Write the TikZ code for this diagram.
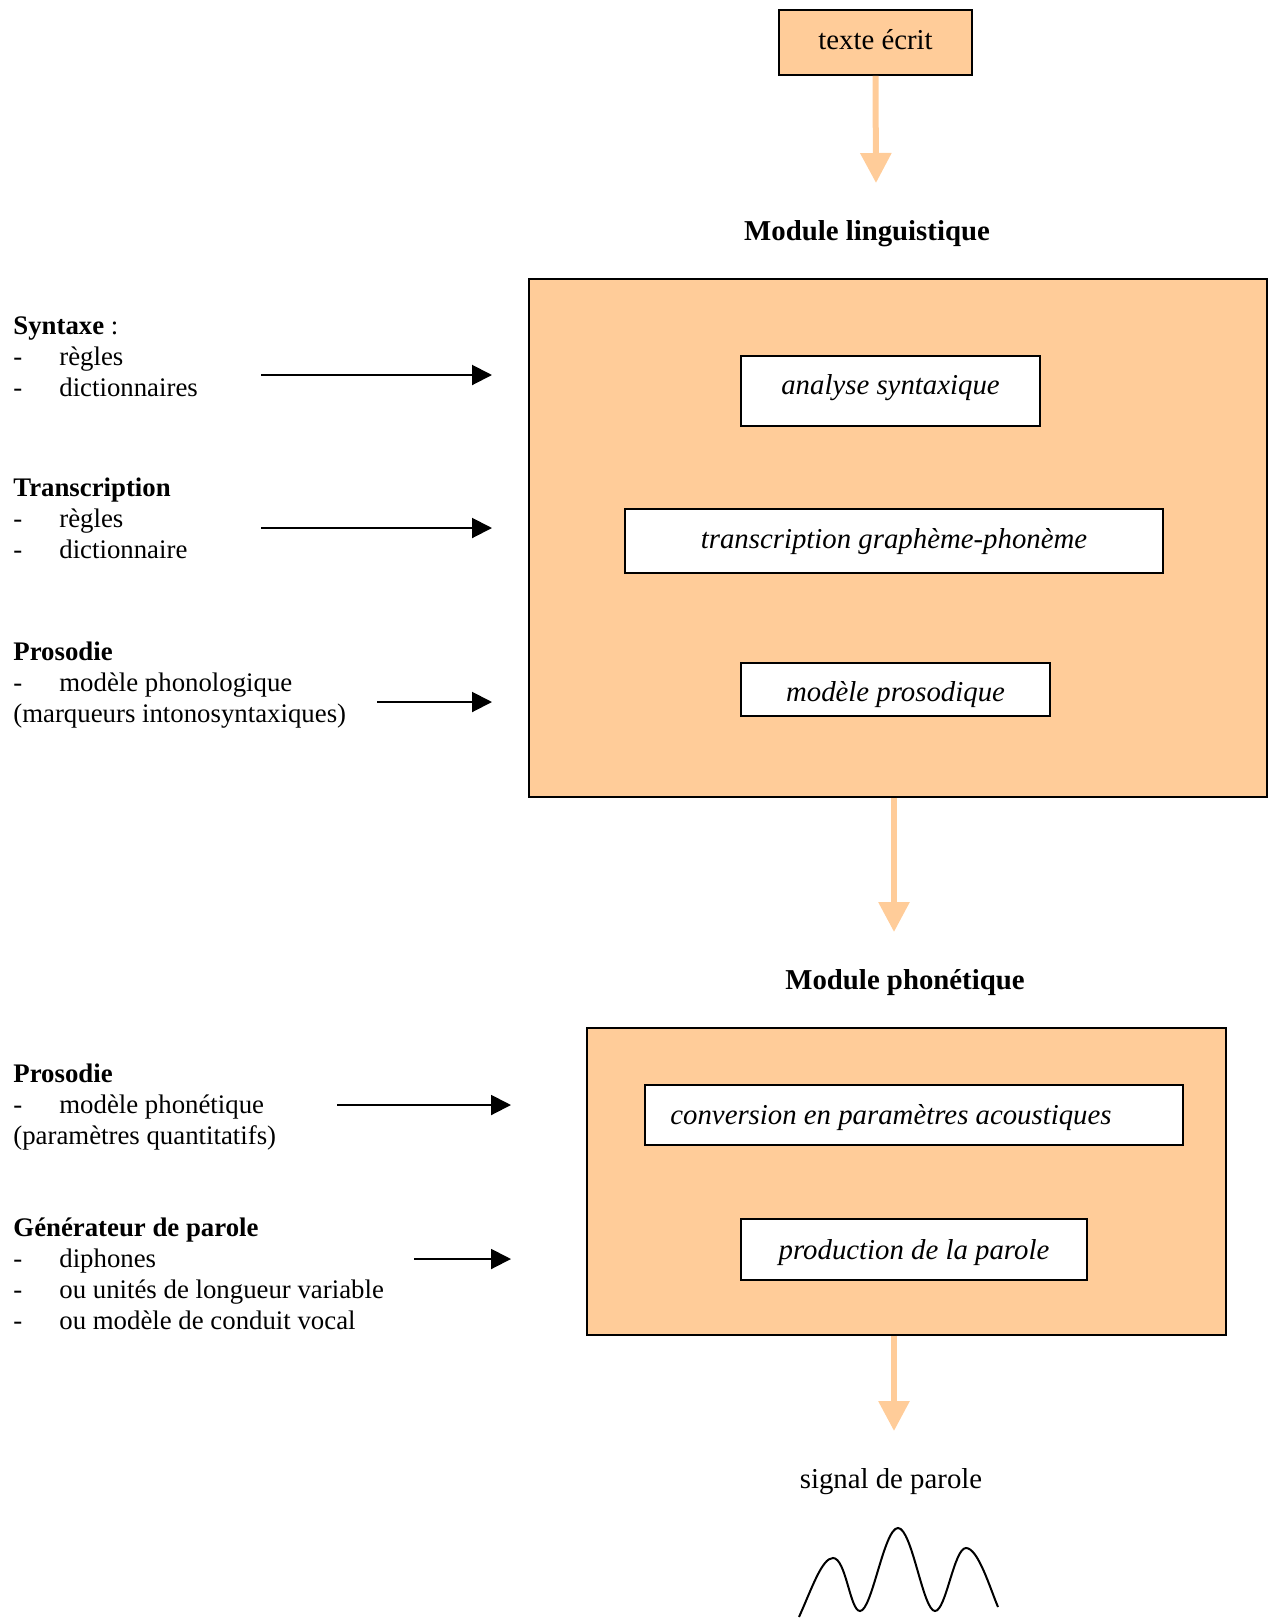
\documentclass[tikz,border=0pt]{standalone}
\usepackage{fontspec}
\setmainfont{Liberation Serif}
\usetikzlibrary{arrows.meta}
\definecolor{peach}{RGB}{255,204,153}
\begin{document}
\begin{tikzpicture}[x=0.5pt,y=-0.5pt,
 box/.style={draw=black, line width=0.8pt, inner sep=0pt},
 whitebox/.style={box, fill=white},
 boxtext/.style={inner sep=0pt, font=\fontsize{14.4pt}{17pt}\selectfont\itshape},
 module/.style={draw=black, line width=0.8pt, fill=peach, inner sep=0pt},
 heading/.style={font=\fontsize{14.4pt}{17pt}\selectfont\bfseries, inner sep=0pt},
 plain/.style={font=\fontsize{14.4pt}{17pt}\selectfont, inner sep=0pt},
 side/.style={anchor=base west, inner sep=0pt, font=\fontsize{13.4pt}{15.5pt}\selectfont},
 flow/.style={draw=peach, line width=3pt, -{Triangle[width=15pt,length=15pt]}},
 feed/.style={draw=black, line width=1pt, -{Triangle[width=10pt,length=10pt]}}]
\useasboundingbox (0,0) rectangle (1270,1618);

% top input
\node[box, fill=peach, minimum width=96.5pt, minimum height=32.5pt] (texte) at (875.5,42.5) {};
\node[plain] (textet) at (875.5,39.5) {texte écrit};
\coordinate (a1) at (876,183);
\draw[flow] (texte.south) -- (a1);

% module linguistique
\node[heading] (ml) at (867,234) {Module linguistique};
\node[module, minimum width=369pt, minimum height=259pt] (m1) at (898,538) {};
\node[whitebox, minimum width=149.5pt, minimum height=35pt] (as) at (890.5,391) {};
\node[boxtext] (ast) at (890.5,388) {analyse syntaxique};
\node[whitebox, minimum width=269pt, minimum height=32pt] (tg) at (894,541) {};
\node[boxtext] (tgt) at (894,542) {transcription graphème-phonème};
\node[whitebox, minimum width=154.5pt, minimum height=26.5pt] (mp) at (895.5,689.5) {};
\node[boxtext] (mpt) at (895.5,694.5) {modèle prosodique};
\coordinate (a2) at (894,932);
\draw[flow] (m1.south -| a2) -- (a2);

% module phonetique
\node[heading] (mph) at (905,983) {Module phonétique};
\node[module, minimum width=319.5pt, minimum height=153.5pt] (m2) at (906.5,1181.5) {};
\node[whitebox, minimum width=269pt, minimum height=30pt] (cv) at (914,1115) {};
\node[boxtext] (cvt) at (891,1118) {conversion en paramètres acoustiques};
\node[whitebox, minimum width=173pt, minimum height=30.5pt] (pp) at (914,1249.5) {};
\node[boxtext] (ppt) at (914,1252.5) {production de la parole};
\coordinate (a3) at (894,1431);
\draw[flow] (m2.south -| a3) -- (a3);

% output
\node[plain] (sig) at (891,1482) {signal de parole};
\draw[line width=1pt] (799,1617)
  .. controls (812,1588) and (822,1558) .. (833,1558)
  .. controls (846,1558) and (850,1611) .. (860,1611)
  .. controls (872,1611) and (884,1528) .. (898,1528)
  .. controls (912,1528) and (923,1611) .. (935,1611)
  .. controls (946,1611) and (954,1548) .. (966,1548)
  .. controls (978,1548) and (990,1588) .. (998,1607);

% left side texts
\node[side] (syn) at (13,334) {\begin{tabular}[t]{@{}l@{}}\textbf{Syntaxe} :\\ \makebox[23pt][l]{-}règles\\ \makebox[23pt][l]{-}dictionnaires\end{tabular}};
\node[side] (tra) at (13,496) {\begin{tabular}[t]{@{}l@{}}\textbf{Transcription}\\ \makebox[23pt][l]{-}règles\\ \makebox[23pt][l]{-}dictionnaire\end{tabular}};
\node[side] (pro) at (13,660) {\begin{tabular}[t]{@{}l@{}}\textbf{Prosodie}\\ \makebox[23pt][l]{-}modèle phonologique\\ (marqueurs intonosyntaxiques)\end{tabular}};
\node[side] (pro2) at (13,1082) {\begin{tabular}[t]{@{}l@{}}\textbf{Prosodie}\\ \makebox[23pt][l]{-}modèle phonétique\\ (paramètres quantitatifs)\end{tabular}};
\node[side] (gen) at (13,1236) {\begin{tabular}[t]{@{}l@{}}\textbf{Générateur de parole}\\ \makebox[23pt][l]{-}diphones\\ \makebox[23pt][l]{-}ou unités de longueur variable\\ \makebox[23pt][l]{-}ou modèle de conduit vocal\end{tabular}};

% feed arrows
\coordinate (f1s) at (261,375); \coordinate (f1e) at (492,375);
\coordinate (f2s) at (261,528); \coordinate (f2e) at (492,528);
\coordinate (f3s) at (377,702); \coordinate (f3e) at (492,702);
\coordinate (f4s) at (337,1105); \coordinate (f4e) at (511,1105);
\coordinate (f5s) at (414,1259); \coordinate (f5e) at (511,1259);
\draw[feed] (f1s) -- (f1e);
\draw[feed] (f2s) -- (f2e);
\draw[feed] (f3s) -- (f3e);
\draw[feed] (f4s) -- (f4e);
\draw[feed] (f5s) -- (f5e);
\end{tikzpicture}
\end{document}
